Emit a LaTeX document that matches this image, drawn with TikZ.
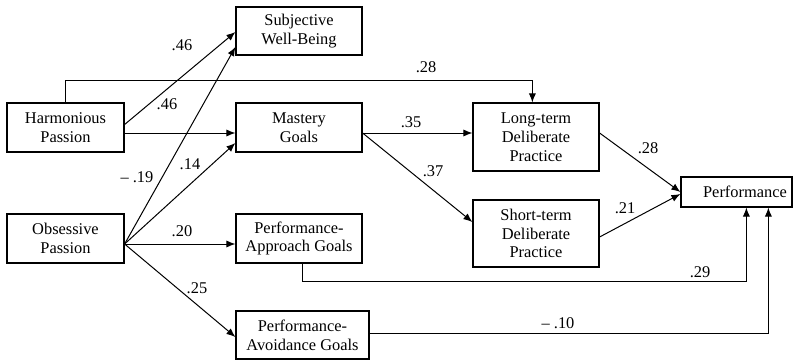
\documentclass[tikz,border=0pt]{standalone}
\usepackage{fontspec}
\setmainfont{Liberation Serif}
\usetikzlibrary{arrows.meta,calc}
\begin{document}
\begin{tikzpicture}[x=0.5pt,y=-0.5pt,
  every node/.style={font=\fontsize{8.2pt}{9.4pt}\selectfont},
  box/.style={draw,line width=0.6pt,inner sep=0pt,align=center},
  conn/.style={line width=0.5pt,-{Latex[length=4.5pt,width=3.6pt]}},
  lab/.style={inner sep=0pt}]
\useasboundingbox (0,0) rectangle (800,360);
\node[box,minimum width=58.5pt,minimum height=24.5pt] (hp) at (65.5,127.5) {Harmonious\\Passion};
\node[box,minimum width=58.5pt,minimum height=24.5pt] (op) at (65.5,238.5) {Obsessive\\Passion};
\node[box,minimum width=63pt,minimum height=24pt] (swb) at (299,31) {Subjective\\Well-Being};
\node[box,minimum width=63pt,minimum height=24.5pt] (mg) at (299,127.5) {Mastery\\Goals};
\node[box,minimum width=63pt,minimum height=24.5pt] (pag) at (299,238.5) {Performance-\\Approach Goals};
\node[box,minimum width=66.5pt,minimum height=24pt] (pvg) at (302.5,335) {Performance-\\Avoidance Goals};
\node[box,minimum width=63pt,minimum height=34pt] (lt) at (536,137) {Long-term\\Deliberate\\Practice};
\node[box,minimum width=63pt,minimum height=33.5pt] (st) at (536,233.5) {Short-term\\Deliberate\\Practice};
\node[box,minimum width=55.5pt,minimum height=15pt] (perf) at (736.5,192) {\hspace*{8.5pt}Performance};
% connectors
\draw[conn] ($(hp.east)+(0,-3)$) -- ($(swb.west)+(0,1)$);
\draw[conn] ($(hp.east)+(0,5.5)$) -- ($(mg.west)+(0,5.5)$);
\draw[conn] ($(op.east)+(0,5.5)$) -- ($(swb.west)+(0,16)$);
\draw[conn] ($(op.east)+(0,5.5)$) -- ($(mg.west)+(0,15.5)$);
\draw[conn] ($(op.east)+(0,5.5)$) -- ($(pag.west)+(0,5.5)$);
\draw[conn] ($(op.east)+(0,5.5)$) -- ($(pvg.west)+(0,2)$);
\draw[conn] ($(mg.east)+(0,5.5)$) -- ($(lt.west)+(0,-4)$);
\draw[conn] ($(mg.east)+(0,5.5)$) -- ($(st.west)+(0,-11.5)$);
\draw[conn] ($(hp.north west)+(59,0)$) -- ++(0,-22) -| ($(lt.north west)+(60,0)$);
\draw[conn] ($(lt.east)+(0,-4)$) -- ($(perf.west)+(0,0)$);
\draw[conn] ($(st.east)+(0,3.5)$) -- ($(perf.west)+(0,2)$);
\draw[conn] ($(pag.south west)+(67,0)$) -- ++(0,18) -| ($(perf.south west)+(66,0)$);
\draw[conn] ($(pvg.east)+(0,-2)$) -| ($(perf.south west)+(88,0)$);
% labels
\node[lab] (l1) at (182,45) {.46};
\node[lab] (l2) at (167,104) {.46};
\node[lab] (l3) at (426,67) {.28};
\node[lab] (l4) at (411,122) {.35};
\node[lab] (l5) at (433,171) {.37};
\node[lab] (l6) at (648,148) {.28};
\node[lab] (l7) at (625,208) {.21};
\node[lab] (l8) at (700,272) {.29};
\node[lab] (l9) at (558,323) {– .10};
\node[lab] (l10) at (137,177) {– .19};
\node[lab] (l11) at (190,164) {.14};
\node[lab] (l12) at (182,231) {.20};
\node[lab] (l13) at (197,288) {.25};
\end{tikzpicture}
\end{document}
